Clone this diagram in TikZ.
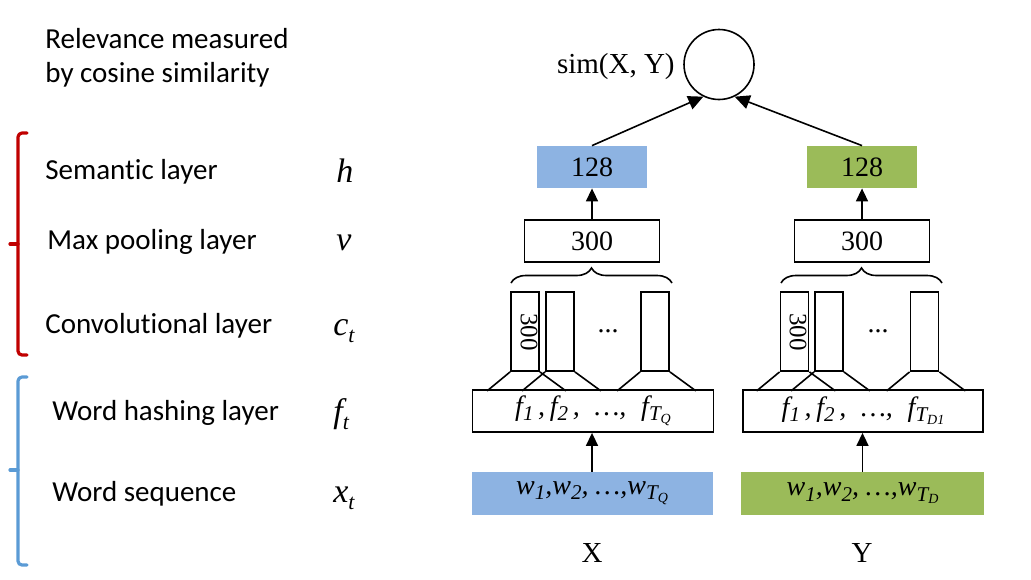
\documentclass[tikz,border=0pt]{standalone}
\usepackage{fontspec}
\setmainfont{Liberation Serif}
\newfontfamily\calibri[Ligatures=NoCommon]{Carlito}
\newfontfamily\timesf{Liberation Serif}
\usetikzlibrary{arrows.meta,decorations.pathreplacing}
\definecolor{qblue}{HTML}{8DB3E2}
\definecolor{dgreen}{HTML}{9BBB59}
\definecolor{bred}{HTML}{C00000}
\definecolor{bblue}{HTML}{5B9BD5}
\newcommand\lsub[1]{\raisebox{-0.4ex}{\fontsize{10.5}{10.5}\selectfont #1}}
\newcommand\tsub[1]{\raisebox{-0.3ex}{\fontsize{7}{7}\selectfont #1}}
\newcommand\msub[1]{\raisebox{-0.45ex}{\fontsize{11}{11}\selectfont #1}}
\begin{document}
\begin{tikzpicture}[x=0.5pt,y=-0.5pt,
 lab/.style={font=\calibri\fontsize{14.5}{17}\selectfont, anchor=base west, inner sep=0},
 sym/.style={font=\timesf\fontsize{17}{20}\selectfont\itshape, anchor=base west, inner sep=0},
 box/.style={draw, line width=0.9pt, minimum height=21pt, inner sep=0, font=\timesf\fontsize{14}{16}\selectfont},
 fbox/.style={inner sep=0, minimum height=21.5pt, font=\timesf\fontsize{14}{16}\selectfont\itshape},
 col/.style={draw, line width=0.9pt, minimum width=14pt, minimum height=39.5pt, inner sep=0},
 arr/.style={line width=0.8pt, -{Triangle[length=6.5pt,width=6pt]}},
 arrb/.style={line width=0.8pt, -{Triangle[length=7.5pt,width=7pt]}},
 tline/.style={line width=0.8pt},
 brk/.style={line width=1.6pt, line cap=round, line join=round},
 brc/.style={line width=0.8pt, decorate, decoration={brace, amplitude=7.5pt}}
]
\useasboundingbox (0,0) rectangle (1031,579);

% left labels
\node[lab] (rel1) at (45,48) {Relevance measured};
\node[lab] (rel2) at (45,82) {by cosine similarity};
\node[lab] (lsem) at (45,179) {Semantic layer};
\node[lab] (lmax) at (47,249) {Max pooling layer};
\node[lab] (lcon) at (45,333) {Convolutional layer};
\node[lab] (lhas) at (52,420) {Word hashing layer};
\node[lab] (lseq) at (52,501) {Word sequence};

\node[sym] (sh) at (336,182) {h};
\node[sym] (sv) at (336,250) {v};
\node[sym] (sc) at (333,335) {c\msub{t}};
\node[sym] (sf) at (333,422) {f\msub{t}};
\node[sym] (sx) at (333,502) {x\msub{t}};

% brackets
\draw[brk, bred, rounded corners=2pt] (27,133) -- (18,133) -- (18,355) -- (27,355);
\draw[brk, bred] (18,244) -- (10,244);
\draw[brk, bblue, rounded corners=2pt] (27,377) -- (18,377) -- (18,565) -- (27,565);
\draw[brk, bblue] (18,470) -- (10,470);

% top
\node[draw, circle, line width=0.8pt, minimum size=35pt, inner sep=0] (circ) at (719,64.5) {};
\node[anchor=east, inner sep=0, font=\timesf\fontsize{14.5}{16}\selectfont] (sim) at (675,67) {sim(X, Y)};

\node[fill=qblue, minimum width=55pt, minimum height=21pt, inner sep=0, font=\timesf\fontsize{14}{16}\selectfont] (qs) at (592,167) {128};
\node[fill=dgreen, minimum width=55pt, minimum height=21pt, inner sep=0, font=\timesf\fontsize{14}{16}\selectfont] (ds) at (862,167) {128};
\draw[arrb] (qs.north) -- (circ.244);
\draw[arrb] (ds.north) -- (circ.296);

\node[box, minimum width=67.5pt] (qv) at (592,241) {300};
\node[box, minimum width=67.5pt] (dv) at (862,241) {300};
\draw[arr] (qv.north) -- (qs.south);
\draw[arr] (dv.north) -- (ds.south);

\draw[brc] (511,283) -- (672,283);
\draw[brc] (781,283) -- (942,283);

% conv columns left
\node[col] (c1) at (525,331.5) {};
\node[col] (c2) at (560,331.5) {};
\node[col] (c3) at (655,331.5) {};
\node[rotate=-90, inner sep=0, font=\timesf\fontsize{12.5}{14}\selectfont] (c1t) at (529,332) {300};
\node[inner sep=0, font=\timesf\fontsize{14}{16}\selectfont] (cdots) at (608,331) {...};
% conv columns right
\node[col] (d1) at (794.5,331.5) {};
\node[col] (d2) at (829,331.5) {};
\node[col] (d3) at (924.5,331.5) {};
\node[rotate=-90, inner sep=0, font=\timesf\fontsize{12.5}{14}\selectfont] (d1t) at (798,332) {300};
\node[inner sep=0, font=\timesf\fontsize{14}{16}\selectfont] (ddots) at (878,331) {...};

% hashing boxes
\node[box, minimum width=120.5pt, font=\timesf\fontsize{14}{16}\selectfont\itshape] (qf) at (593,411) {f\lsub{1}\,,\,f\lsub{2}\,,\; \dots,\; f\lsub{T\tsub{Q}}};
\node[box, minimum width=120pt, font=\timesf\fontsize{14}{16}\selectfont\itshape] (df) at (863,411) {f\lsub{1}\,,\,f\lsub{2}\,,\; \dots,\; f\lsub{T\tsub{D1}}};

% trapezoid lines
\foreach \c in {c1,c2,c3,d1,d2,d3}{
  \draw[tline] (\c.south west) -- ++(-23,19);
  \draw[tline] (\c.south east) -- ++(26,19);
}

% word sequence
\node[fbox, fill=qblue, minimum width=120.5pt] (qw) at (592,493.5) {w\lsub{1},w\lsub{2}, \dots,w\lsub{T\tsub{Q}}};
\node[fbox, fill=dgreen, minimum width=121.5pt] (dw) at (862.5,493.5) {w\lsub{1},w\lsub{2}, \dots,w\lsub{T\tsub{D}}};
\draw[arr] (qw.north) -- (qw.north |- qf.south);
\draw[arr] (dw.north) -- (dw.north |- df.south);

\node[font=\timesf\fontsize{14.5}{16}\selectfont] (lx) at (592,553) {X};
\node[font=\timesf\fontsize{14.5}{16}\selectfont] (ly) at (862,553) {Y};
\end{tikzpicture}
\end{document}
